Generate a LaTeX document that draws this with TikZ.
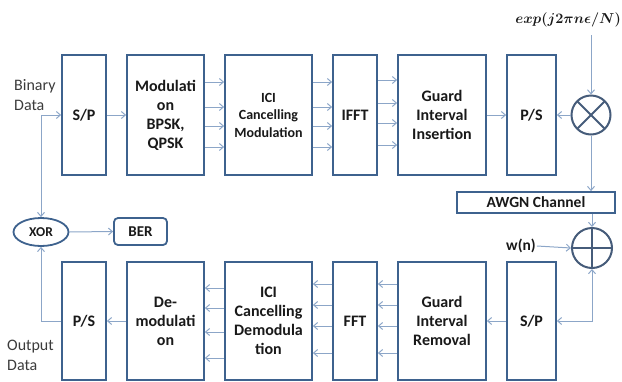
\documentclass[tikz,border=0pt]{standalone}
\usepackage{fontspec}
\setmainfont{Carlito}
\usepackage{amsmath,bm}
\usetikzlibrary{arrows.meta,shapes.geometric}
\definecolor{boxc}{RGB}{62,98,142}
\definecolor{arrc}{RGB}{140,166,200}
\definecolor{circc}{RGB}{70,92,122}
\definecolor{txtc}{RGB}{25,25,25}
\tikzset{
  box/.style={draw=boxc,line width=1.8pt,fill=white,align=center,inner sep=1pt,
    font=\fontsize{16}{19}\selectfont\bfseries,text=txtc},
  arr/.style={draw=arrc,line width=1pt,-{Straight Barb[length=4pt,width=7pt]}},
  darr/.style={draw=arrc,line width=1pt,{Straight Barb[length=4pt,width=7pt]}-{Straight Barb[length=4pt,width=7pt]}},
  lbl/.style={font=\fontsize{16}{20}\selectfont,text=txtc!85,align=left,inner sep=0pt},
  opcirc/.style={circle,draw=circc,line width=2pt,minimum size=#1,inner sep=0pt}
}
\begin{document}
\begin{tikzpicture}[x=1pt,y=-1pt]
\useasboundingbox (0,0) rectangle (622,381);
% top row
\node[box,minimum width=44pt,minimum height=120pt] (sp1) at (84,115) {S/P};
\node[box,minimum width=77pt,minimum height=120pt] (mod) at (165.5,115) {Modulati\\on\\BPSK,\\QPSK};
\node[box,minimum width=87pt,minimum height=120pt,font=\fontsize{14}{17.5}\selectfont\bfseries] (icim) at (268.5,115) {ICI\\Cancelling\\Modulation};
\node[box,minimum width=44pt,minimum height=120pt] (ifft) at (355,115) {IFFT};
\node[box,minimum width=88pt,minimum height=120pt] (gii) at (442,115) {Guard\\Interval\\Insertion};
\node[box,minimum width=49pt,minimum height=120pt] (ps1) at (531.5,115) {P/S};
\node[opcirc=39pt,path picture={
  \draw[circc,line width=2pt] (path picture bounding box.north west) -- (path picture bounding box.south east);
  \draw[circc,line width=2pt] (path picture bounding box.north east) -- (path picture bounding box.south west);}] (mul) at (591,115) {};
\node[anchor=east,inner sep=0pt,text=txtc] (expl) at (621,20) {\fontsize{15}{17}\selectfont $\bm{exp(j2\pi n\epsilon/N)}$};
\coordinate (expin) at (591,35);
% channel
\node[box,minimum width=158pt,minimum height=21pt,font=\fontsize{15.5}{17}\selectfont\bfseries] (awgn) at (536,202.5) {AWGN Channel};
\node[opcirc=40pt,path picture={
  \draw[circc,line width=2pt] (path picture bounding box.north) -- (path picture bounding box.south);
  \draw[circc,line width=2pt] (path picture bounding box.west) -- (path picture bounding box.east);}] (add) at (592,248) {};
\node[inner sep=1pt,font=\fontsize{15.5}{17}\selectfont\bfseries,text=txtc] (wn) at (521,246) {w(n)};
% bottom row
\node[box,minimum width=49pt,minimum height=118pt] (sp2) at (531.5,321) {S/P};
\node[box,minimum width=88pt,minimum height=118pt] (gir) at (442,321) {Guard\\Interval\\Removal};
\node[box,minimum width=44pt,minimum height=118pt] (fft) at (355,321) {FFT};
\node[box,minimum width=87pt,minimum height=118pt] (icid) at (268.5,321) {ICI\\Cancelling\\Demodula\\tion};
\node[box,minimum width=77pt,minimum height=118pt] (demod) at (165.5,321) {De-\\modulati\\on};
\node[box,minimum width=44pt,minimum height=118pt] (ps2) at (84,321) {P/S};
% left side
\node[ellipse,draw=boxc,line width=1.8pt,minimum width=55pt,minimum height=28pt,inner sep=0pt,
  font=\fontsize{13.5}{15}\selectfont\bfseries,text=txtc] (xor) at (41,232) {XOR};
\node[draw=boxc,line width=1.8pt,rounded corners=4pt,minimum width=53pt,minimum height=27pt,inner sep=0pt,
  font=\fontsize{15}{17}\selectfont\bfseries,text=txtc] (ber) at (140.5,231.5) {BER};
\node[lbl,anchor=west] (binary) at (14,95) {Binary\\Data};
\node[lbl,anchor=west] (output) at (7,355) {Output\\Data};
% connectors top
\draw[darr] (xor.north) |- (sp1.west);
\draw[arr] (sp1.east) -- (mod.west);
\foreach \y in {82,107,126,147}{
  \draw[arr] (mod.east |- 0,\y) -- (icim.west |- 0,\y);
  \draw[arr] (icim.east |- 0,\y) -- (ifft.west |- 0,\y);
}
\foreach \y in {80,103,123,145}{
  \draw[arr] (ifft.east |- 0,\y) -- (gii.west |- 0,\y);
}
\draw[arr] (gii.east) -- (ps1.west);
\draw[arr] (mul.west) -- (ps1.east);
\draw[arr] (expin) -- (mul.north);
\draw[arr] (mul.south) -- (mul.south |- awgn.north);
\draw[arr] (awgn.south -| add.north) -- (add.north);
\draw[arr] (wn.east) -- (add.west);
% connectors bottom
\draw[darr] (add.south) |- (sp2.east);
\draw[arr] (sp2.west) -- (gir.east);
\foreach \y in {284,305,326,353}{
  \draw[arr] (gir.west |- 0,\y) -- (fft.east |- 0,\y);
  \draw[arr] (fft.west |- 0,\y) -- (icid.east |- 0,\y);
}
\foreach \y in {288,308,332,358}{
  \draw[arr] (icid.west |- 0,\y) -- (demod.east |- 0,\y);
}
\draw[arr] (demod.west) -- (ps2.east);
\draw[arr] (ps2.west) -| (xor.south);
\draw[arr] (xor.east) -- (ber.west);
\end{tikzpicture}
\end{document}
